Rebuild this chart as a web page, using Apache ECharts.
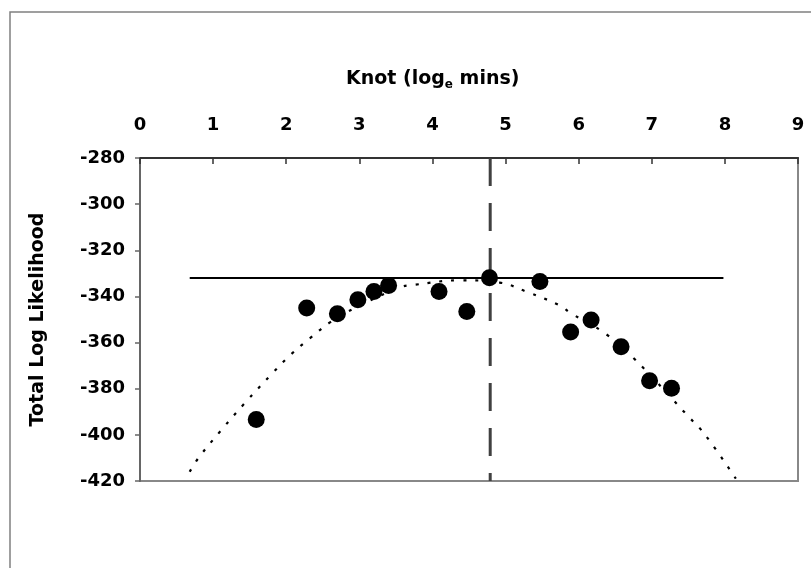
<!DOCTYPE html>
<html>
<head>
<meta charset="utf-8">
<script src="https://cdn.jsdelivr.net/npm/echarts@6/dist/echarts.min.js"></script>
<style>
  html, body { margin: 0; padding: 0; background: #fff; }
  #chart { width: 811px; height: 568px; }
</style>
</head>
<body>
<div id="chart"></div>
<script>
// knot positions (log_e mins) and total log likelihood
const knotX = [1.59, 2.28, 2.70, 2.98, 3.20, 3.40, 4.09, 4.47, 4.78, 5.47, 5.89, 6.17, 6.58, 6.97, 7.27];
const logLik = [-393.3, -345, -347.5, -341.4, -337.9, -335.3, -337.9, -346.5, -331.9, -333.5, -355.4, -350.2, -361.8, -376.5, -379.8];

// fitted trend (dotted)
const trendX = [0.68, 0.80, 1.11, 1.44, 1.82, 2.07, 2.33, 2.61, 2.94, 3.56, 3.74, 4.38, 4.92, 5.29, 5.75, 5.88, 6.36, 6.76, 7.50, 7.73, 8.15];
const trendY = [-416, -410, -398, -386, -373, -365, -358, -351, -345, -336, -335, -333, -334, -338, -344, -347, -356, -367, -392, -400, -419];

// reference lines
const maxLevel = -332;
const levelFrom = 0.68;
const levelTo = 7.98;
const bestKnot = 4.79;

const xTicks = [0, 1, 2, 3, 4, 5, 6, 7, 8, 9];
const yMin = -420, yMax = -280, yStep = 20;

const font = 'DejaVu Sans';

const chart = echarts.init(document.getElementById('chart'));

const option = {
  backgroundColor: '#fff',
  animation: false,
  title: {
    text: '{a|Knot (log}{s|e}{a| mins)}',
    left: 341,
    top: 60,
    textStyle: {
      rich: {
        a: { fontFamily: font, fontWeight: 'bold', fontSize: 19, color: '#000', lineHeight: 28 },
        s: { fontFamily: font, fontWeight: 'bold', fontSize: 12, color: '#000', lineHeight: 28, padding: [12, 0, 0, 0] }
      }
    }
  },
  graphic: [{
    type: 'rect',
    z: -1,
    shape: { x: 10, y: 12, width: 900, height: 700 },
    style: { fill: 'none', stroke: '#808080', lineWidth: 1.5 }
  }],
  grid: {
    left: 140,
    top: 158,
    right: 13,
    bottom: 87,
    show: true,
    borderColor: '#888',
    borderWidth: 2
  },
  xAxis: {
    type: 'value',
    position: 'top',
    min: 0,
    max: 9,
    interval: 1,
    axisLine: { show: true, onZero: false, lineStyle: { color: '#333', width: 2 } },
    axisTick: { show: true, inside: true, length: 6, lineStyle: { color: '#333', width: 1.5 } },
    axisLabel: {
      margin: 24,
      color: '#000',
      fontFamily: font,
      fontWeight: 'bold',
      fontSize: 18,
      formatter: v => xTicks.includes(v) ? String(v) : ''
    },
    splitLine: { show: false }
  },
  yAxis: {
    type: 'value',
    min: yMin,
    max: yMax,
    interval: yStep,
    name: 'Total Log Likelihood',
    nameLocation: 'middle',
    nameGap: 92,
    nameTextStyle: { color: '#000', fontFamily: font, fontWeight: 'bold', fontSize: 19 },
    axisLine: { show: true, onZero: false, lineStyle: { color: '#666', width: 2 } },
    axisTick: { show: true, length: 5, lineStyle: { color: '#666', width: 1.5 } },
    axisLabel: { margin: 15, color: '#000', fontFamily: font, fontWeight: 'bold', fontSize: 18 },
    splitLine: { show: false }
  },
  series: [
    {
      name: 'trend',
      type: 'line',
      data: trendX.map((x, i) => [x, trendY[i]]),
      smooth: 0.4,
      symbol: 'none',
      lineStyle: { color: '#000', width: 2.2, type: [3, 9] },
      z: 2
    },
    {
      name: 'max',
      type: 'line',
      data: [[levelFrom, maxLevel], [levelTo, maxLevel]],
      symbol: 'none',
      lineStyle: { color: '#000', width: 2 },
      z: 3
    },
    {
      name: 'knot',
      type: 'line',
      data: [[bestKnot, yMax], [bestKnot, yMin]],
      symbol: 'none',
      lineStyle: { color: '#404040', width: 3, type: [28, 17] },
      z: 3
    },
    {
      name: 'likelihood',
      type: 'scatter',
      data: knotX.map((x, i) => [x, logLik[i]]),
      symbol: 'circle',
      symbolSize: 17,
      itemStyle: { color: '#000', opacity: 1 },
      z: 5
    }
  ]
};

chart.setOption(option);
</script>
</body>
</html>
